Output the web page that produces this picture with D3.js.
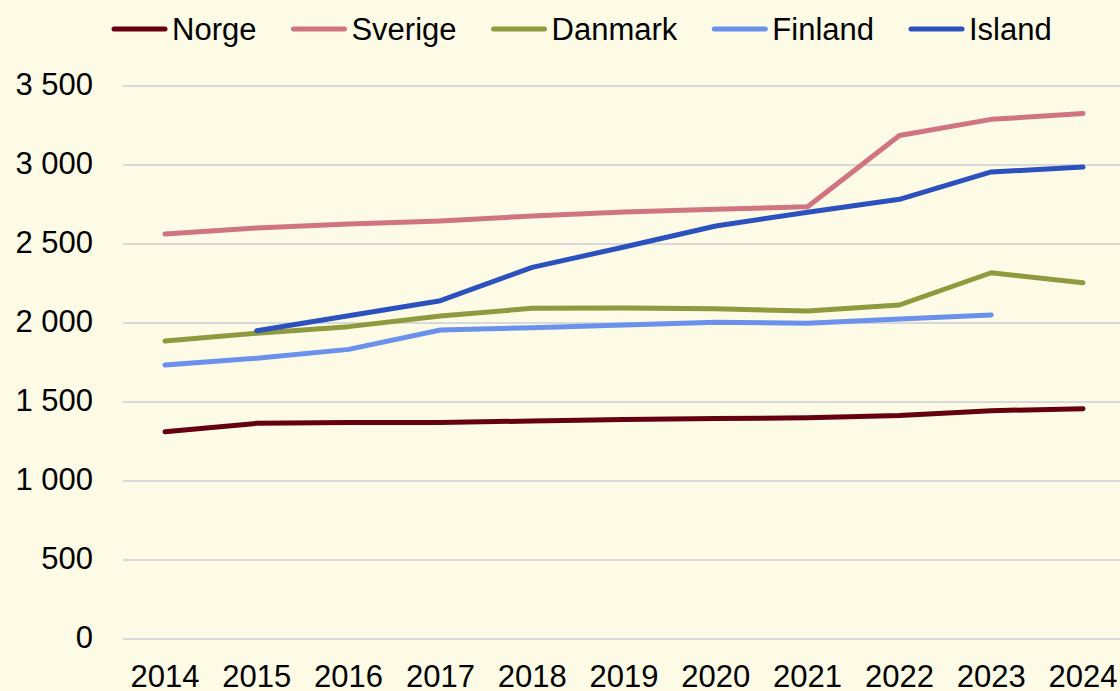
<!DOCTYPE html>
<html>
<head>
<meta charset="utf-8">
<script src="https://cdn.jsdelivr.net/npm/d3@7"></script>
<style>
  html, body { margin: 0; padding: 0; background: #fdfbe5; }
  svg { display: block; font-family: "Liberation Sans", Arial, sans-serif; }
</style>
</head>
<body>
<div id="chart"></div>
<script>
const years = [2014, 2015, 2016, 2017, 2018, 2019, 2020, 2021, 2022, 2023, 2024];
const yTicks = [0, 500, 1000, 1500, 2000, 2500, 3000, 3500];

const norge   = [1312, 1365, 1370, 1370, 1380, 1390, 1395, 1400, 1415, 1445, 1458];
const sverige = [2563, 2601, 2627, 2646, 2677, 2703, 2720, 2736, 3187, 3289, 3326];
const danmark = [1886, 1935, 1977, 2044, 2093, 2095, 2090, 2076, 2114, 2318, 2255];
const finland = [1734, 1777, 1833, 1956, 1970, 1987, 2004, 1998, 2025, 2051, null];
const island  = [null, 1951, 2046, 2141, 2352, 2481, 2614, 2701, 2783, 2956, 2987];

const seriesNames = ["Norge", "Sverige", "Danmark", "Finland", "Island"];
const seriesValues = [norge, sverige, danmark, finland, island];
const seriesColors = ["#650010", "#d07480", "#8e9a3e", "#6a91ec", "#2b51bf"];

const width = 1120, height = 691;
const margin = {top: 86, right: 37, bottom: 52, left: 165};

const svg = d3.select("#chart")
    .append("svg")
    .attr("width", width)
    .attr("height", height);

svg.append("rect")
    .attr("width", width)
    .attr("height", height)
    .attr("fill", "#fdfbe5");

// scales
const x = d3.scalePoint()
    .domain(years)
    .range([margin.left, width - margin.right]);

const y = d3.scaleLinear()
    .domain([0, 3500])
    .range([height - margin.bottom, margin.top]);

// grid lines
svg.selectAll(".grid-line")
    .data(yTicks)
    .enter()
    .append("line")
    .attr("class", "grid-line")
    .attr("x1", 123)
    .attr("x2", width)
    .attr("y1", d => y(d))
    .attr("y2", d => y(d))
    .attr("stroke", "#d9d9d9")
    .attr("stroke-width", 2);

// y axis labels, space as thousands separator
const fmt = d => d3.format(",")(d).replace(/,/g, " ");
svg.selectAll(".y-label")
    .data(yTicks)
    .enter()
    .append("text")
    .attr("class", "y-label")
    .attr("x", 93)
    .attr("y", d => y(d) + 9)
    .attr("text-anchor", "end")
    .style("font-size", "31px")
    .attr("fill", "#000")
    .text(fmt);

// x axis labels
svg.selectAll(".x-label")
    .data(years)
    .enter()
    .append("text")
    .attr("class", "x-label")
    .attr("x", d => x(d))
    .attr("y", 687)
    .attr("text-anchor", "middle")
    .style("font-size", "31px")
    .attr("fill", "#000")
    .text(d => d);

// lines
const line = d3.line()
    .defined(d => d.value != null)
    .x(d => x(d.year))
    .y(d => y(d.value));

seriesNames.forEach((name, i) => {
    const pts = years.map((yr, j) => ({year: yr, value: seriesValues[i][j]}));
    svg.append("path")
        .datum(pts)
        .attr("fill", "none")
        .attr("stroke", seriesColors[i])
        .attr("stroke-width", 5)
        .attr("stroke-linecap", "round")
        .attr("stroke-linejoin", "round")
        .attr("d", line);
});

// legend
let lx = 112;
seriesNames.forEach((name, i) => {
    const g = svg.append("g");
    g.append("line")
        .attr("x1", lx + 2)
        .attr("x2", lx + 53)
        .attr("y1", 29)
        .attr("y2", 29)
        .attr("stroke", seriesColors[i])
        .attr("stroke-width", 5)
        .attr("stroke-linecap", "round");
    const t = g.append("text")
        .attr("x", lx + 60)
        .attr("y", 40)
        .style("font-size", "31px")
        .attr("fill", "#000")
        .text(name);
    lx += 60 + t.node().getComputedTextLength() + 35;
});
</script>
</body>
</html>
